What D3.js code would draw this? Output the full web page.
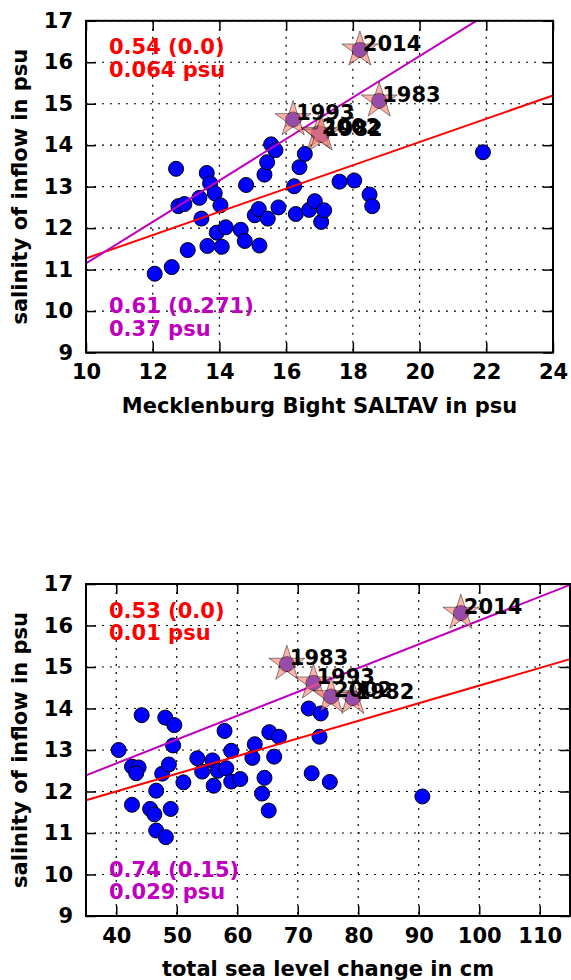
<!DOCTYPE html>
<html>
<head>
<meta charset="utf-8">
<script src="https://cdn.jsdelivr.net/npm/d3@7"></script>
<style>
  html, body { margin: 0; padding: 0; background: #fff; }
  svg { display: block; }
  text { font-family: "DejaVu Sans", sans-serif; font-weight: bold; }
</style>
</head>
<body>
<svg id="chart" width="571" height="980"></svg>
<script>
// ---- data -------------------------------------------------------------
// salinity of inflow (psu) against Mecklenburg Bight SALTAV (psu)
const topBlueX = [12.06, 12.57, 13.05, 12.70, 12.77, 12.95, 13.40, 13.62, 13.72, 13.46,
                  13.64, 13.86, 14.03, 13.92, 14.07, 14.19, 14.64, 14.76, 14.80, 15.20,
                  15.06, 15.18, 15.45, 15.35, 15.43, 15.55, 15.68, 15.77, 16.24, 16.29,
                  16.40, 16.56, 16.69, 16.86, 17.05, 17.14, 17.60, 18.04, 18.50, 18.58,
                  21.90];
const topBlueY = [10.90, 11.06, 11.47, 13.43, 12.53, 12.58, 12.73, 13.33, 13.08, 12.23,
                  11.57, 12.84, 12.55, 11.89, 11.55, 12.02, 11.96, 11.69, 13.04, 11.58,
                  12.31, 12.46, 12.23, 13.29, 13.59, 14.02, 13.88, 12.50, 13.01, 12.34,
                  13.47, 13.79, 12.44, 12.65, 12.15, 12.43, 13.12, 13.15, 12.81, 12.53,
                  13.83];

// salinity of inflow (psu) against total sea level change (cm)
const botBlueX = [40.4, 44.2, 42.6, 43.7, 43.3, 42.6, 45.6, 46.3, 46.6, 46.6,
                  48.2, 47.6, 48.7, 49.0, 48.1, 49.6, 49.4, 51.1, 53.4, 54.2,
                  55.9, 56.1, 56.8, 57.9, 58.2, 59.0, 59.0, 60.5, 62.5, 62.9,
                  64.5, 64.1, 65.2, 65.3, 66.9, 66.1, 71.8, 73.8, 73.6, 72.3,
                  75.3, 90.6];
const botBlueY = [13.00, 13.84, 12.60, 12.58, 12.44, 11.68, 11.58, 11.45, 12.02, 11.06,
                  10.90, 12.43, 12.65, 11.58, 13.78, 13.60, 13.11, 12.22, 12.80, 12.48,
                  12.75, 12.14, 12.50, 13.46, 12.56, 12.98, 12.24, 12.30, 12.81, 13.14,
                  12.33, 11.95, 11.54, 13.43, 13.32, 12.84, 14.00, 13.88, 13.32, 12.44,
                  12.23, 11.88];

// highlighted years
const starYears = ["2014", "1983", "1993", "2002", "1982"];
const starSal   = [16.30, 15.07, 14.62, 14.29, 14.25];
const topStarX  = [18.21, 18.79, 16.21, 16.98, 17.05];
const botStarX  = [96.96, 68.2, 72.6, 75.5, 79.1];

// fitted lines, given by their end points [x, y]
const topRedFit    = [[10, 11.27], [24, 15.20]];
const topPurpleFit = [[10, 11.15], [21.7, 17.00]];
const botRedFit    = [[35, 11.79], [115, 15.19]];
const botPurpleFit = [[35, 12.39], [115, 16.98]];

// correlation / error annotations
const topRedStats    = ["0.54 (0.0)", "0.064 psu"];
const topPurpleStats = ["0.61 (0.271)", "0.37 psu"];
const botRedStats    = ["0.53 (0.0)", "0.01 psu"];
const botPurpleStats = ["0.74 (0.15)", "0.029 psu"];

// axes
const topXTicks = [10, 12, 14, 16, 18, 20, 22, 24];
const botXTicks = [40, 50, 60, 70, 80, 90, 100, 110];
const yTicks    = [9, 10, 11, 12, 13, 14, 15, 16, 17];
const topXLabel = "Mecklenburg Bight SALTAV in psu";
const botXLabel = "total sea level change in cm";
const yLabel    = "salinity of inflow in psu";

// ---- drawing ----------------------------------------------------------
const svg = d3.select("#chart");
const RED = "#ff0000", MAG = "#bf00bf";
const FS = "21px";

function panel(o) {
  const x = d3.scaleLinear().domain(o.xDomain).range([o.left, o.right]);
  const y = d3.scaleLinear().domain([9, 17]).range([o.bottom, o.top]);
  const g = svg.append("g");
  const TL = 10;

  // dotted grid
  g.append("g").selectAll("line").data(o.xTicks).join("line")
    .attr("x1", d => x(d)).attr("x2", d => x(d))
    .attr("y1", o.top).attr("y2", o.bottom)
    .attr("stroke", "#000").attr("stroke-width", 1.2)
    .attr("stroke-dasharray", "2,6");
  g.append("g").selectAll("line").data(yTicks).join("line")
    .attr("x1", o.left).attr("x2", o.right)
    .attr("y1", d => y(d)).attr("y2", d => y(d))
    .attr("stroke", "#000").attr("stroke-width", 1.2)
    .attr("stroke-dasharray", "2,6");

  // axes with inward ticks on all four sides
  const bottomAxis = d3.axisBottom(x).tickValues(o.xTicks).tickSizeInner(-TL).tickSizeOuter(0).tickPadding(12);
  const topAxis = d3.axisTop(x).tickValues(o.xTicks).tickSizeInner(-TL).tickSizeOuter(0).tickFormat("");
  const leftAxis = d3.axisLeft(y).tickValues(yTicks).tickSizeInner(-TL).tickSizeOuter(0).tickPadding(13);
  const rightAxis = d3.axisRight(y).tickValues(yTicks).tickSizeInner(-TL).tickSizeOuter(0).tickFormat("");

  const axes = [
    g.append("g").attr("transform", `translate(0,${o.bottom})`).call(bottomAxis),
    g.append("g").attr("transform", `translate(0,${o.top})`).call(topAxis),
    g.append("g").attr("transform", `translate(${o.left},0)`).call(leftAxis),
    g.append("g").attr("transform", `translate(${o.right},0)`).call(rightAxis)
  ];
  axes.forEach(a => {
    a.select(".domain").remove();
    a.selectAll(".tick line").attr("stroke", "#000").attr("stroke-width", 1.5);
    a.selectAll(".tick text").attr("fill", "#000")
      .style("font-size", FS).style("font-weight", "bold")
      .style("font-family", "'DejaVu Sans', sans-serif");
  });

  // points
  const pts = d3.zip(o.blueX, o.blueY).concat(d3.zip(o.starX, starSal));
  g.append("g").selectAll("circle").data(pts).join("circle")
    .attr("cx", d => x(d[0])).attr("cy", d => y(d[1])).attr("r", 7.5)
    .attr("fill", "#0000ff").attr("stroke", "#000").attr("stroke-width", 1);

  // fitted lines
  const line = d3.line().x(d => x(d[0])).y(d => y(d[1]));
  g.append("path").datum(o.redFit).attr("d", line)
    .attr("fill", "none").attr("stroke", RED).attr("stroke-width", 2);
  g.append("path").datum(o.purpleFit).attr("d", line)
    .attr("fill", "none").attr("stroke", MAG).attr("stroke-width", 2);

  // star markers for highlighted years
  const star = d3.symbol().type(d3.symbolStar).size(400);
  const stars = d3.zip(o.starX, starSal, starYears);
  g.append("g").selectAll("path").data(stars).join("path")
    .attr("d", star)
    .attr("transform", d => `translate(${x(d[0])},${y(d[1])})`)
    .attr("fill", "#fa8072").attr("fill-opacity", 0.6)
    .attr("stroke", "#000").attr("stroke-opacity", 0.45).attr("stroke-width", 1);
  g.append("g").selectAll("text").data(stars).join("text")
    .attr("x", d => x(d[0]) + 3).attr("y", d => y(d[1]) + 1)
    .attr("fill", "#000").style("font-size", FS)
    .text(d => d[2]);

  // frame
  g.append("rect").attr("x", o.left).attr("y", o.top)
    .attr("width", o.right - o.left).attr("height", o.bottom - o.top)
    .attr("fill", "none").attr("stroke", "#000").attr("stroke-width", 2);

  // statistics
  const stat = (lines, color, y0) => lines.forEach((t, i) =>
    g.append("text").attr("x", o.left + 23).attr("y", y0 + i * 22.7)
      .attr("fill", color).style("font-size", FS).text(t));
  stat(o.redStats, RED, o.top + 33.5);
  stat(o.purpleStats, MAG, o.bottom - 39.5);

  // axis titles
  g.append("text").attr("x", (o.left + o.right) / 2).attr("y", o.bottom + o.xTitleGap)
    .attr("text-anchor", "middle").attr("fill", "#000").style("font-size", FS)
    .text(o.xLabel);
  g.append("text")
    .attr("transform", `translate(27,${(o.top + o.bottom) / 2}) rotate(-90)`)
    .attr("text-anchor", "middle").attr("fill", "#000").style("font-size", FS)
    .text(yLabel);
}

panel({
  xDomain: [10, 24], left: 86, right: 553, top: 20.8, bottom: 352.5,
  xTicks: topXTicks, blueX: topBlueX, blueY: topBlueY, starX: topStarX,
  redFit: topRedFit, purpleFit: topPurpleFit,
  redStats: topRedStats, purpleStats: topPurpleStats,
  xLabel: topXLabel, xTitleGap: 60.5
});
panel({
  xDomain: [35, 115], left: 86, right: 570, top: 584, bottom: 916,
  xTicks: botXTicks, blueX: botBlueX, blueY: botBlueY, starX: botStarX,
  redFit: botRedFit, purpleFit: botPurpleFit,
  redStats: botRedStats, purpleStats: botPurpleStats,
  xLabel: botXLabel, xTitleGap: 60
});
</script>
</body>
</html>
